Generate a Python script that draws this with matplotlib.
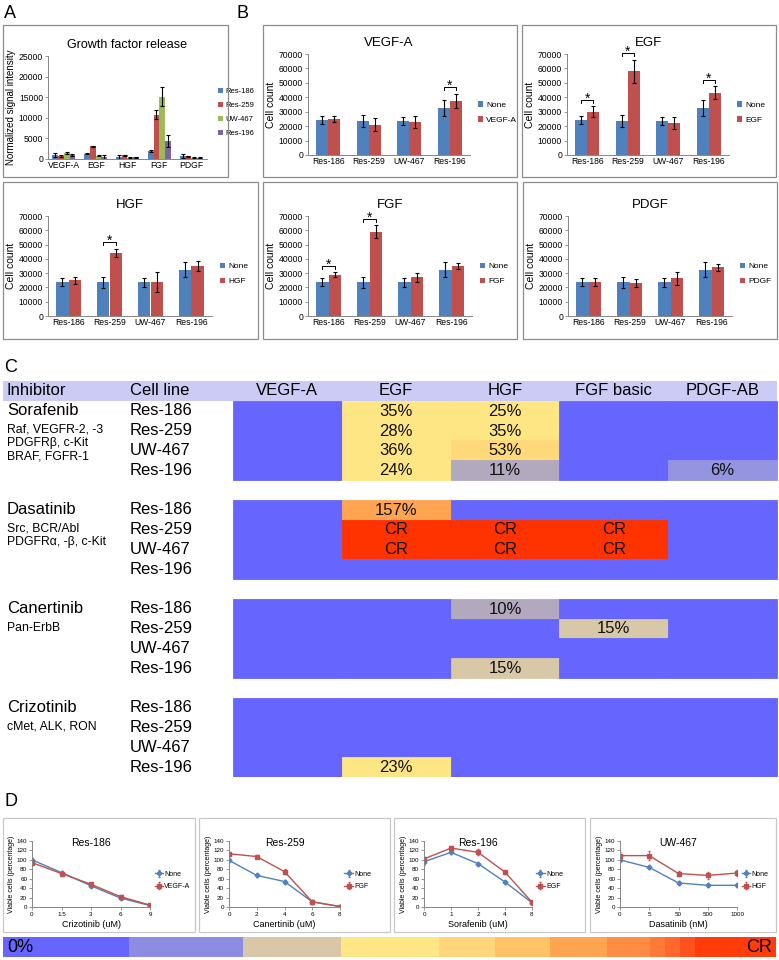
import numpy as np
import matplotlib
matplotlib.use("Agg")
import matplotlib.pyplot as plt
from matplotlib.patches import Rectangle

plt.rcParams['font.family'] = ['Liberation Sans', 'DejaVu Sans']

# ---- data ----
factors_a = ["VEGF-A", "EGF", "HGF", "FGF", "PDGF"]
lines_a = ["Res-186", "Res-259", "UW-467", "Res-196"]
release = np.array([[1000, 700, 1400, 950],
                    [1300, 3100, 800, 400],
                    [500, 900, 300, 400],
                    [1900, 10800, 15100, 4300],
                    [700, 700, 350, 350]])
release_err = np.array([[500, 150, 200, 150],
                        [150, 150, 100, 600],
                        [400, 150, 100, 200],
                        [200, 1100, 2300, 1500],
                        [400, 100, 100, 100]])

cell_lines = ["Res-186", "Res-259", "UW-467", "Res-196"]
none_count = [24000, 23500, 23500, 32500]
none_count_err = [2800, 4000, 3000, 5500]
growth_titles = ["VEGF-A", "EGF", "HGF", "FGF", "PDGF"]
growth_count = [[25000, 21000, 23000, 37500],
                [30000, 58000, 22000, 43000],
                [25000, 44000, 24000, 35000],
                [29000, 59000, 27000, 35000],
                [23500, 23000, 26500, 34000]]
growth_count_err = [[2000, 4500, 4000, 4800],
                    [3800, 8000, 4000, 4500],
                    [2500, 3000, 7000, 3500],
                    [1500, 4500, 3000, 2000],
                    [2800, 3000, 4500, 2500]]
growth_stars = [[3], [0, 1, 3], [1], [0, 1], []]

heat_cols = ["VEGF-A", "EGF", "HGF", "FGF basic", "PDGF-AB"]
inhibitors = ["Sorafenib", "Dasatinib", "Canertinib", "Crizotinib"]
targets = [["Raf, VEGFR-2, -3", "PDGFRβ, c-Kit", "BRAF, FGFR-1"],
           ["Src, BCR/Abl", "PDGFRα, -β, c-Kit"],
           ["Pan-ErbB"],
           ["cMet, ALK, RON"]]
sorafenib = [[0, 35, 25, 0, 0], [0, 28, 35, 0, 0], [0, 36, 53, 0, 0], [0, 24, 11, 0, 6]]
dasatinib = [[0, 157, 0, 0, 0], [0, "CR", "CR", "CR", 0], [0, "CR", "CR", "CR", 0], [0, 0, 0, 0, 0]]
canertinib = [[0, 0, 10, 0, 0], [0, 0, 0, 15, 0], [0, 0, 0, 0, 0], [0, 0, 15, 0, 0]]
crizotinib = [[0, 0, 0, 0, 0], [0, 0, 0, 0, 0], [0, 0, 0, 0, 0], [0, 23, 0, 0, 0]]
heat_blocks = [sorafenib, dasatinib, canertinib, crizotinib]

via_titles = ["Res-186", "Res-259", "Res-196", "UW-467"]
via_xlabels = ["Crizotinib (uM)", "Canertinib (uM)", "Sorafenib (uM)", "Dasatinib (nM)"]
via_doses = [["0", "1.5", "3", "6", "9"], ["0", "2", "4", "6", "8"],
             ["0", "1", "2", "4", "8"], ["0", "5", "50", "500", "1000"]]
via_treat = ["VEGF-A", "FGF", "EGF", "HGF"]
via_none = [[100, 73, 45, 19, 3], [99, 67, 54, 11, 1], [96, 116, 92, 53, 9], [100, 84, 51, 46, 46]]
via_none_err = [[3, 3, 3, 2, 1], [3, 4, 3, 2, 1], [6, 4, 2, 2, 1], [3, 3, 4, 3, 3]]
via_growth = [[94, 71, 48, 22, 4], [113, 107, 75, 11, 1], [102, 125, 116, 74, 10], [109, 109, 71, 67, 72]]
via_growth_err = [[4, 4, 3, 3, 2], [4, 4, 6, 3, 3], [5, 4, 6, 3, 3], [8, 9, 6, 7, 7]]

scale_colors = ["#6666ff", "#8c8ce3", "#d8c8a8", "#ffe685", "#ffd67a", "#ffc266",
                "#ffa552", "#ff8c45", "#ff7a38", "#ff682c", "#ff5020", "#ff3c0a"]
scale_widths = [126, 114, 98, 98, 56, 55, 57, 43, 15, 15, 15, 81]

# ---- layout helpers (pixel coords, origin top-left) ----
W, H = 779, 960
fig = plt.figure(figsize=(W / 100, H / 100), dpi=100)

def axes_px(x0, y0, x1, y1):
    return fig.add_axes([x0 / W, 1 - y1 / H, (x1 - x0) / W, (y1 - y0) / H])

def frame_px(x0, y0, x1, y1, color="#8c8c8c"):
    fig.add_artist(Rectangle((x0 / W, 1 - y1 / H), (x1 - x0) / W, (y1 - y0) / H,
                             transform=fig.transFigure, fill=False, ec=color, lw=0.9))

def text_px(x, y, s, **kw):
    fig.text(x / W, 1 - y / H, s, **kw)

def excel_style(ax, size):
    for s in ["top", "right"]:
        ax.spines[s].set_visible(False)
    for s in ["left", "bottom"]:
        ax.spines[s].set_color("#868686")
        ax.spines[s].set_linewidth(0.7)
    ax.tick_params(colors="#868686", labelcolor="black", length=2, width=0.6,
                   labelsize=size, pad=1.5)

blue, red, green, purple = "#4f81bd", "#c0504d", "#9bbb59", "#8064a2"
err_kw = dict(ecolor="black", elinewidth=0.8, capsize=1.5, capthick=0.8)

for lbl, x, y in [("A", 4, 14), ("B", 236, 14), ("C", 4, 368), ("D", 4, 802)]:
    text_px(x, y, lbl, fontsize=13, va="center")

# ---- A ----
frame_px(3, 25, 228, 177)
ax = axes_px(48, 56, 207, 159)
x = np.arange(len(factors_a))
for k, (name, c) in enumerate(zip(lines_a, [blue, red, green, purple])):
    ax.bar(x + (k - 1.5) * 0.18, release[:, k], 0.18, yerr=release_err[:, k],
           color=c, label=name, error_kw=err_kw)
ax.set_xlim(-0.5, 4.5)
ax.set_ylim(0, 25000)
ax.set_yticks(np.arange(0, 25001, 5000))
ax.set_xticks(x)
ax.set_xticklabels(factors_a)
excel_style(ax, 6.2)
ax.tick_params(axis="x", length=0)
ax.set_ylabel("Normalized signal intensity", fontsize=7, labelpad=2)
ax.set_title("Growth factor release", fontsize=9, pad=6)
ax.legend(loc="center left", bbox_to_anchor=(1.07, 0.45), frameon=False, fontsize=5.5,
          handlelength=0.6, handleheight=0.6, handletextpad=0.4, labelspacing=0.9,
          borderaxespad=0, borderpad=0)

# ---- B ----
b_boxes = [(263, 25, 517, 177), (522, 25, 776, 177), (3, 182, 258, 339),
           (263, 182, 517, 339), (523, 182, 777, 339)]
b_axes = [(308, 54, 470, 155), (567, 54, 729, 155), (48, 216, 212, 316),
          (308, 216, 472, 316), (568, 216, 732, 316)]
x = np.arange(len(cell_lines))
for i in range(5):
    frame_px(*b_boxes[i])
    ax = axes_px(*b_axes[i])
    ax.bar(x - 0.15, none_count, 0.3, yerr=none_count_err, color=blue, label="None", error_kw=err_kw)
    ax.bar(x + 0.15, growth_count[i], 0.3, yerr=growth_count_err[i], color=red,
           label=growth_titles[i], error_kw=err_kw)
    for j in growth_stars[i]:
        h = max(none_count[j] + none_count_err[j], growth_count[i][j] + growth_count_err[i][j]) + 4500
        ax.plot([j - 0.15, j - 0.15, j + 0.15, j + 0.15], [h - 2000, h, h, h - 2000],
                color="black", lw=0.7, clip_on=False)
        ax.text(j, h - 1800, "*", ha="center", va="baseline", fontsize=10, clip_on=False)
    ax.set_xlim(-0.5, 3.5)
    ax.set_ylim(0, 70000)
    ax.set_yticks(np.arange(0, 70001, 10000))
    ax.set_xticks(x)
    ax.set_xticklabels(cell_lines)
    excel_style(ax, 6.2)
    ax.tick_params(axis="x", length=0)
    ax.set_ylabel("Cell count", fontsize=7.5, labelpad=2)
    ax.set_title(growth_titles[i], fontsize=9.5, pad=6)
    ax.legend(loc="center left", bbox_to_anchor=(1.05, 0.42), frameon=False, fontsize=6,
              handlelength=0.6, handleheight=0.6, handletextpad=0.4, labelspacing=0.9,
              borderaxespad=0, borderpad=0)

# ---- C ----
def cell_color(v):
    if v == "CR":
        return "#ff3300"
    if v == 0:
        return "#6666ff"
    if v < 8:
        return "#9494e0"
    if v < 13:
        return "#b3a9bf"
    if v < 20:
        return "#d8c8a8"
    if v < 50:
        return "#ffe685"
    if v < 100:
        return "#ffd87a"
    return "#ffa552"

top, row_h = 381, 19.8
col0, col_w = 233, 108.8
ax = axes_px(0, top, W, top + 20 * row_h)
ax.set_xlim(0, W)
ax.set_ylim(top + 20 * row_h, top)
ax.axis("off")
ax.add_patch(Rectangle((3, top), 774, row_h, color="#cbcbf6", lw=0))
ax.text(7, top + row_h / 2, "Inhibitor", fontsize=12, va="center")
ax.text(130, top + row_h / 2, "Cell line", fontsize=12, va="center")
for j, name in enumerate(heat_cols):
    ax.text(col0 + (j + 0.5) * col_w, top + row_h / 2, name, fontsize=12, ha="center", va="center")
for b, block in enumerate(heat_blocks):
    y_b = top + (1 + 5 * b) * row_h
    ax.text(7, y_b + row_h / 2, inhibitors[b], fontsize=12, va="center")
    ax.text(7, y_b + row_h + 3, "\n".join(targets[b]), fontsize=8.8, va="top", linespacing=1.15)
    for r, row in enumerate(block):
        y = y_b + r * row_h
        ax.text(130, y + row_h / 2, cell_lines[r], fontsize=12, va="center")
        for j, v in enumerate(row):
            c = cell_color(v)
            ax.add_patch(Rectangle((col0 + j * col_w, y), col_w, row_h, fc=c, ec=c, lw=0.6))
            if v != 0:
                s = v if v == "CR" else f"{v}%"
                ax.text(col0 + (j + 0.5) * col_w, y + row_h / 2 + 0.5, s, fontsize=12,
                        ha="center", va="center", color="#111111")

# ---- D ----
d_boxes = [(3, 818, 195, 932), (199, 818, 390, 932), (394, 818, 585, 932), (590, 818, 776, 932)]
d_axes = [(32, 841, 150, 907), (229, 841, 340, 907), (424, 841, 532, 907), (620, 841, 737, 907)]
for i in range(4):
    frame_px(*d_boxes[i], color="#c8c8c8")
    ax = axes_px(*d_axes[i])
    x = np.arange(len(via_doses[i]))
    ax.errorbar(x, via_none[i], yerr=via_none_err[i], color=blue, marker="D", ms=2.5,
                lw=1, elinewidth=0.6, capsize=1, label="None")
    ax.errorbar(x, via_growth[i], yerr=via_growth_err[i], color=red, marker="s", ms=3.5,
                lw=1, elinewidth=0.6, capsize=1, label=via_treat[i])
    ax.set_xlim(0, 4)
    ax.set_ylim(0, 140)
    ax.set_yticks(np.arange(0, 141, 20))
    ax.set_xticks(x)
    ax.set_xticklabels(via_doses[i])
    excel_style(ax, 4.5)
    ax.set_ylabel("Viable cells (percentage)", fontsize=5, labelpad=1)
    ax.set_xlabel(via_xlabels[i], fontsize=6.5, labelpad=2)
    ax.text(0.5, 0.97, via_titles[i], transform=ax.transAxes, ha="center", va="center", fontsize=7.5)
    ax.legend(loc="center left", bbox_to_anchor=(1.04, 0.4), frameon=False, fontsize=5,
              handlelength=1.2, handletextpad=0.2, labelspacing=0.8,
              borderaxespad=0, borderpad=0)

# colour scale
ax = axes_px(3, 937, 776, 957)
left = np.concatenate([[0], np.cumsum(scale_widths)[:-1]])
ax.barh(0, scale_widths, left=left, height=1, color=scale_colors, lw=0)
ax.set_xlim(0, sum(scale_widths))
ax.set_ylim(-0.5, 0.5)
ax.axis("off")
ax.text(4, 0, "0%", fontsize=13, va="center", ha="left")
ax.text(sum(scale_widths) - 4, 0, "CR", fontsize=13, va="center", ha="right")

fig.savefig("out.png", dpi=100)
